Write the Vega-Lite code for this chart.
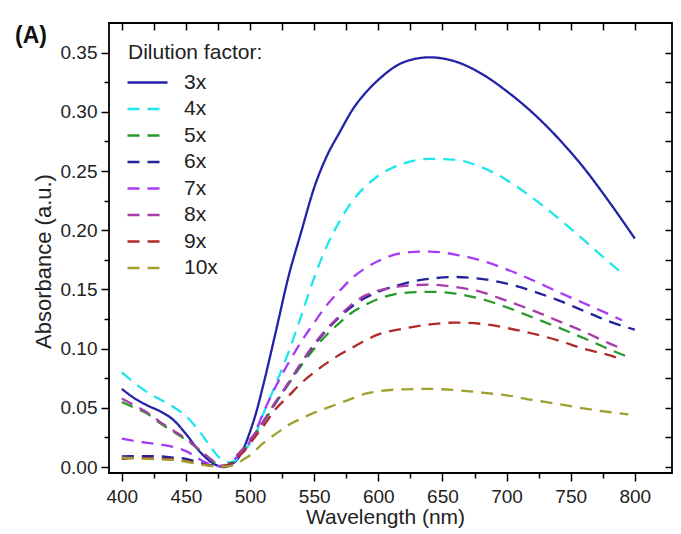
{
"$schema": "https://vega.github.io/schema/vega-lite/v6.json",
"width": 563, "height": 450,
"autosize": {"type": "none"},
"padding": {"left": 109, "top": 23, "right": 9, "bottom": 61},
"background": "white",
"config": {
  "view": {"stroke": "#000", "strokeWidth": 1.8},
  "font": "Liberation Sans",
  "axis": {"grid": false, "domain": false, "tickColor": "#000", "tickWidth": 1.5, "labelColor": "#222", "titleColor": "#222", "labelFont": "Liberation Sans", "titleFont": "Liberation Sans", "titleFontWeight": "normal"}
},
"title": {"text": "(A)", "anchor": "start", "frame": "group", "orient": "top", "fontSize": 23, "fontWeight": "bold", "font": "Liberation Sans", "color": "#111", "baseline": "bottom", "dx": -94, "dy": 49, "offset": 0},
"data": {"values": [
{"s":"3x","w":400,"a":0.066},{"s":"3x","w":410,"a":0.058},{"s":"3x","w":420,"a":0.052},{"s":"3x","w":430,"a":0.047},{"s":"3x","w":440,"a":0.040},{"s":"3x","w":450,"a":0.028},{"s":"3x","w":460,"a":0.014},{"s":"3x","w":470,"a":0.004},{"s":"3x","w":475,"a":0.001},{"s":"3x","w":480,"a":0.000},{"s":"3x","w":485,"a":0.002},{"s":"3x","w":490,"a":0.0065},{"s":"3x","w":495,"a":0.016},{"s":"3x","w":500,"a":0.030},{"s":"3x","w":505,"a":0.047},{"s":"3x","w":510,"a":0.068},{"s":"3x","w":520,"a":0.114},{"s":"3x","w":530,"a":0.161},{"s":"3x","w":540,"a":0.199},{"s":"3x","w":550,"a":0.236},{"s":"3x","w":560,"a":0.263},{"s":"3x","w":570,"a":0.283},{"s":"3x","w":580,"a":0.302},{"s":"3x","w":590,"a":0.316},{"s":"3x","w":600,"a":0.327},{"s":"3x","w":620,"a":0.342},{"s":"3x","w":640,"a":0.346},{"s":"3x","w":660,"a":0.3425},{"s":"3x","w":680,"a":0.3325},{"s":"3x","w":700,"a":0.3175},{"s":"3x","w":720,"a":0.2995},{"s":"3x","w":740,"a":0.278},{"s":"3x","w":760,"a":0.253},{"s":"3x","w":780,"a":0.224},{"s":"3x","w":800,"a":0.193},
{"s":"4x","w":400,"a":0.080},{"s":"4x","w":410,"a":0.071},{"s":"4x","w":420,"a":0.063},{"s":"4x","w":430,"a":0.057},{"s":"4x","w":440,"a":0.051},{"s":"4x","w":450,"a":0.043},{"s":"4x","w":460,"a":0.031},{"s":"4x","w":470,"a":0.016},{"s":"4x","w":475,"a":0.009},{"s":"4x","w":480,"a":0.005},{"s":"4x","w":485,"a":0.004},{"s":"4x","w":490,"a":0.007},{"s":"4x","w":495,"a":0.013},{"s":"4x","w":500,"a":0.020},{"s":"4x","w":505,"a":0.030},{"s":"4x","w":510,"a":0.044},{"s":"4x","w":520,"a":0.070},{"s":"4x","w":530,"a":0.097},{"s":"4x","w":540,"a":0.128},{"s":"4x","w":550,"a":0.160},{"s":"4x","w":560,"a":0.187},{"s":"4x","w":570,"a":0.208},{"s":"4x","w":580,"a":0.225},{"s":"4x","w":590,"a":0.237},{"s":"4x","w":600,"a":0.246},{"s":"4x","w":620,"a":0.2565},{"s":"4x","w":640,"a":0.2603},{"s":"4x","w":660,"a":0.2595},{"s":"4x","w":680,"a":0.2535},{"s":"4x","w":700,"a":0.2425},{"s":"4x","w":720,"a":0.2275},{"s":"4x","w":740,"a":0.2105},{"s":"4x","w":760,"a":0.192},{"s":"4x","w":780,"a":0.173},{"s":"4x","w":792,"a":0.162},
{"s":"5x","w":400,"a":0.055},{"s":"5x","w":410,"a":0.050},{"s":"5x","w":420,"a":0.045},{"s":"5x","w":430,"a":0.037},{"s":"5x","w":440,"a":0.030},{"s":"5x","w":450,"a":0.023},{"s":"5x","w":460,"a":0.015},{"s":"5x","w":470,"a":0.006},{"s":"5x","w":475,"a":0.002},{"s":"5x","w":480,"a":0.001},{"s":"5x","w":485,"a":0.003},{"s":"5x","w":490,"a":0.009},{"s":"5x","w":495,"a":0.015},{"s":"5x","w":500,"a":0.022},{"s":"5x","w":505,"a":0.029},{"s":"5x","w":510,"a":0.037},{"s":"5x","w":520,"a":0.054},{"s":"5x","w":530,"a":0.070},{"s":"5x","w":540,"a":0.086},{"s":"5x","w":550,"a":0.100},{"s":"5x","w":560,"a":0.112},{"s":"5x","w":570,"a":0.122},{"s":"5x","w":580,"a":0.131},{"s":"5x","w":590,"a":0.137},{"s":"5x","w":600,"a":0.142},{"s":"5x","w":620,"a":0.147},{"s":"5x","w":640,"a":0.148},{"s":"5x","w":660,"a":0.1465},{"s":"5x","w":680,"a":0.142},{"s":"5x","w":700,"a":0.135},{"s":"5x","w":720,"a":0.1265},{"s":"5x","w":740,"a":0.118},{"s":"5x","w":760,"a":0.109},{"s":"5x","w":780,"a":0.0995},{"s":"5x","w":796,"a":0.0925},
{"s":"6x","w":400,"a":0.009},{"s":"6x","w":410,"a":0.0092},{"s":"6x","w":420,"a":0.0093},{"s":"6x","w":430,"a":0.009},{"s":"6x","w":440,"a":0.008},{"s":"6x","w":450,"a":0.007},{"s":"6x","w":460,"a":0.004},{"s":"6x","w":470,"a":0.0015},{"s":"6x","w":475,"a":0.001},{"s":"6x","w":480,"a":0.001},{"s":"6x","w":485,"a":0.003},{"s":"6x","w":490,"a":0.010},{"s":"6x","w":495,"a":0.016},{"s":"6x","w":500,"a":0.023},{"s":"6x","w":505,"a":0.030},{"s":"6x","w":510,"a":0.038},{"s":"6x","w":520,"a":0.055},{"s":"6x","w":530,"a":0.071},{"s":"6x","w":540,"a":0.088},{"s":"6x","w":550,"a":0.103},{"s":"6x","w":560,"a":0.116},{"s":"6x","w":570,"a":0.127},{"s":"6x","w":580,"a":0.136},{"s":"6x","w":590,"a":0.143},{"s":"6x","w":600,"a":0.148},{"s":"6x","w":620,"a":0.155},{"s":"6x","w":640,"a":0.159},{"s":"6x","w":660,"a":0.1605},{"s":"6x","w":680,"a":0.159},{"s":"6x","w":700,"a":0.155},{"s":"6x","w":720,"a":0.1487},{"s":"6x","w":740,"a":0.141},{"s":"6x","w":760,"a":0.132},{"s":"6x","w":780,"a":0.123},{"s":"6x","w":800,"a":0.116},
{"s":"7x","w":400,"a":0.024},{"s":"7x","w":410,"a":0.022},{"s":"7x","w":420,"a":0.0205},{"s":"7x","w":430,"a":0.019},{"s":"7x","w":440,"a":0.017},{"s":"7x","w":450,"a":0.0135},{"s":"7x","w":460,"a":0.007},{"s":"7x","w":470,"a":0.002},{"s":"7x","w":475,"a":0.001},{"s":"7x","w":480,"a":0.001},{"s":"7x","w":485,"a":0.003},{"s":"7x","w":490,"a":0.009},{"s":"7x","w":495,"a":0.015},{"s":"7x","w":500,"a":0.022},{"s":"7x","w":505,"a":0.032},{"s":"7x","w":510,"a":0.045},{"s":"7x","w":520,"a":0.068},{"s":"7x","w":530,"a":0.088},{"s":"7x","w":540,"a":0.106},{"s":"7x","w":550,"a":0.122},{"s":"7x","w":560,"a":0.137},{"s":"7x","w":570,"a":0.149},{"s":"7x","w":580,"a":0.160},{"s":"7x","w":590,"a":0.168},{"s":"7x","w":600,"a":0.174},{"s":"7x","w":620,"a":0.181},{"s":"7x","w":640,"a":0.182},{"s":"7x","w":660,"a":0.1795},{"s":"7x","w":680,"a":0.1745},{"s":"7x","w":700,"a":0.167},{"s":"7x","w":720,"a":0.158},{"s":"7x","w":740,"a":0.148},{"s":"7x","w":760,"a":0.1385},{"s":"7x","w":780,"a":0.129},{"s":"7x","w":790,"a":0.124},
{"s":"8x","w":400,"a":0.058},{"s":"8x","w":410,"a":0.052},{"s":"8x","w":420,"a":0.046},{"s":"8x","w":430,"a":0.038},{"s":"8x","w":440,"a":0.031},{"s":"8x","w":450,"a":0.024},{"s":"8x","w":460,"a":0.015},{"s":"8x","w":470,"a":0.006},{"s":"8x","w":475,"a":0.002},{"s":"8x","w":480,"a":0.001},{"s":"8x","w":485,"a":0.003},{"s":"8x","w":490,"a":0.010},{"s":"8x","w":495,"a":0.016},{"s":"8x","w":500,"a":0.023},{"s":"8x","w":505,"a":0.030},{"s":"8x","w":510,"a":0.038},{"s":"8x","w":520,"a":0.055},{"s":"8x","w":530,"a":0.071},{"s":"8x","w":540,"a":0.088},{"s":"8x","w":550,"a":0.104},{"s":"8x","w":560,"a":0.117},{"s":"8x","w":570,"a":0.128},{"s":"8x","w":580,"a":0.138},{"s":"8x","w":590,"a":0.145},{"s":"8x","w":600,"a":0.149},{"s":"8x","w":620,"a":0.153},{"s":"8x","w":640,"a":0.154},{"s":"8x","w":660,"a":0.152},{"s":"8x","w":680,"a":0.148},{"s":"8x","w":700,"a":0.1405},{"s":"8x","w":720,"a":0.1325},{"s":"8x","w":740,"a":0.1235},{"s":"8x","w":760,"a":0.1145},{"s":"8x","w":780,"a":0.1045},{"s":"8x","w":790,"a":0.100},
{"s":"9x","w":400,"a":0.007},{"s":"9x","w":410,"a":0.0075},{"s":"9x","w":420,"a":0.0075},{"s":"9x","w":430,"a":0.007},{"s":"9x","w":440,"a":0.0065},{"s":"9x","w":450,"a":0.005},{"s":"9x","w":460,"a":0.003},{"s":"9x","w":470,"a":0.001},{"s":"9x","w":475,"a":0.0005},{"s":"9x","w":480,"a":0.001},{"s":"9x","w":485,"a":0.003},{"s":"9x","w":490,"a":0.008},{"s":"9x","w":495,"a":0.013},{"s":"9x","w":500,"a":0.020},{"s":"9x","w":505,"a":0.027},{"s":"9x","w":510,"a":0.034},{"s":"9x","w":520,"a":0.049},{"s":"9x","w":530,"a":0.060},{"s":"9x","w":540,"a":0.071},{"s":"9x","w":550,"a":0.080},{"s":"9x","w":560,"a":0.088},{"s":"9x","w":570,"a":0.095},{"s":"9x","w":580,"a":0.101},{"s":"9x","w":590,"a":0.107},{"s":"9x","w":600,"a":0.112},{"s":"9x","w":620,"a":0.117},{"s":"9x","w":640,"a":0.1205},{"s":"9x","w":660,"a":0.122},{"s":"9x","w":680,"a":0.121},{"s":"9x","w":700,"a":0.1175},{"s":"9x","w":720,"a":0.1128},{"s":"9x","w":740,"a":0.107},{"s":"9x","w":760,"a":0.100},{"s":"9x","w":780,"a":0.0945},{"s":"9x","w":788,"a":0.0915},
{"s":"10x","w":400,"a":0.008},{"s":"10x","w":410,"a":0.0075},{"s":"10x","w":420,"a":0.007},{"s":"10x","w":430,"a":0.0065},{"s":"10x","w":440,"a":0.006},{"s":"10x","w":450,"a":0.0045},{"s":"10x","w":460,"a":0.0025},{"s":"10x","w":470,"a":0.001},{"s":"10x","w":475,"a":0.0005},{"s":"10x","w":480,"a":0.0005},{"s":"10x","w":485,"a":0.001},{"s":"10x","w":490,"a":0.003},{"s":"10x","w":495,"a":0.0065},{"s":"10x","w":500,"a":0.010},{"s":"10x","w":505,"a":0.015},{"s":"10x","w":510,"a":0.020},{"s":"10x","w":520,"a":0.028},{"s":"10x","w":530,"a":0.0355},{"s":"10x","w":540,"a":0.041},{"s":"10x","w":550,"a":0.046},{"s":"10x","w":560,"a":0.050},{"s":"10x","w":570,"a":0.054},{"s":"10x","w":580,"a":0.058},{"s":"10x","w":590,"a":0.062},{"s":"10x","w":600,"a":0.064},{"s":"10x","w":620,"a":0.0657},{"s":"10x","w":640,"a":0.066},{"s":"10x","w":660,"a":0.065},{"s":"10x","w":680,"a":0.063},{"s":"10x","w":700,"a":0.0605},{"s":"10x","w":720,"a":0.0567},{"s":"10x","w":740,"a":0.0533},{"s":"10x","w":760,"a":0.0495},{"s":"10x","w":780,"a":0.0465},{"s":"10x","w":795,"a":0.0445}
]},
"layer": [
  {
    "mark": {"type": "line", "interpolate": "monotone", "strokeWidth": 2.3},
    "encoding": {
      "x": {"field": "w", "type": "quantitative",
        "scale": {"domain": [390, 829], "nice": false, "zero": false},
        "axis": {"orient": "bottom", "values": [400,425,450,475,500,525,550,575,600,625,650,675,700,725,750,775,800],
          "tickSize": {"condition": {"test": "datum.value % 50 == 0", "value": 8}, "value": 5},
          "labelExpr": "datum.value % 50 == 0 ? datum.label : ''",
          "labelFontSize": 19, "labelPadding": 6, "title": "Wavelength (nm)", "titleFontSize": 21, "titlePadding": 0, "titleX": 276}},
      "y": {"field": "a", "type": "quantitative",
        "scale": {"domain": [-0.005, 0.375], "nice": false, "zero": false},
        "axis": {"orient": "left", "values": [0,0.025,0.05,0.075,0.1,0.125,0.15,0.175,0.2,0.225,0.25,0.275,0.3,0.325,0.35],
          "format": ".2f",
          "tickSize": {"condition": {"test": "round(datum.value*40) % 2 == 0", "value": 8}, "value": 5},
          "labelExpr": "round(datum.value*40) % 2 == 0 ? datum.label : ''",
          "labelFontSize": 19, "labelPadding": 4, "title": "Absorbance (a.u.)", "titleFontSize": 22, "titlePadding": 5, "titleY": 238}},
      "color": {"field": "s", "type": "nominal", "sort": ["3x","4x","5x","6x","7x","8x","9x","10x"],
        "scale": {"domain": ["3x","4x","5x","6x","7x","8x","9x","10x"],
          "range": ["#2323a8","#1ee6ec","#2a982a","#24249a","#a63cf5","#a83ca8","#b02a2a","#a0a030"]},
        "legend": {"title": "Dilution factor:", "orient": "none", "legendX": 19, "legendY": 19, "padding": 0,
          "titleFontSize": 21, "titleFontWeight": "normal", "titleColor": "#222", "titlePadding": 9,
          "labelFontSize": 21, "labelColor": "#222", "labelOffset": 35, "rowPadding": 4.5,
          "symbolType": "M-2.2,0H5.8", "symbolSize": 100, "symbolStrokeWidth": 2.3}},
      "strokeDash": {"field": "s", "type": "nominal", "sort": ["3x","4x","5x","6x","7x","8x","9x","10x"],
        "scale": {"domain": ["3x","4x","5x","6x","7x","8x","9x","10x"],
          "range": [[1,0],[12,8],[12,8],[12,8],[12,8],[12,8],[12,8],[12,8]]}}
    }
  },
  {
    "mark": {"type": "point", "opacity": 0},
    "encoding": {
      "x": {"field": "w", "type": "quantitative",
        "axis": {"orient": "top", "values": [400,425,450,475,500,525,550,575,600,625,650,675,700,725,750,775,800],
          "tickSize": -7, "labels": false, "title": null}},
      "y": {"field": "a", "type": "quantitative",
        "axis": {"orient": "right", "values": [0,0.025,0.05,0.075,0.1,0.125,0.15,0.175,0.2,0.225,0.25,0.275,0.3,0.325,0.35],
          "tickSize": -7, "labels": false, "title": null}}
    }
  }
],
"resolve": {"axis": {"x": "independent", "y": "independent"}}
}
